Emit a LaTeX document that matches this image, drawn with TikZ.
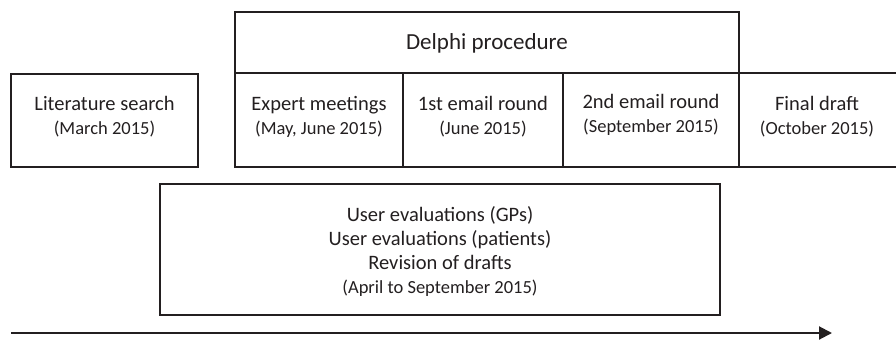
\documentclass[tikz,border=0pt]{standalone}
\usepackage{fontspec}
\setmainfont{Carlito}
\usetikzlibrary{arrows.meta}
\definecolor{ink}{HTML}{231F20}
\tikzset{
  frame/.style={draw=ink, line width=2pt},
  lbl/.style={text=ink, align=center, inner sep=0pt, font=\fontsize{20.5}{24}\selectfont},
}
\newcommand{\dt}[1]{{\fontsize{18.5}{22}\selectfont #1}}
\begin{document}
\begin{tikzpicture}[x=1pt, y=-1pt]
\useasboundingbox (0,0) rectangle (896,340);
% boxes
\draw[frame] (11,74) rectangle (198,167);
\draw[frame] (235,12) rectangle (739,73);
\draw[frame] (235,73) rectangle (403,167);
\draw[frame] (403,73) rectangle (563,167);
\draw[frame] (563,73) rectangle (739,167);
\draw[frame] (898,73) -- (739,73) -- (739,167) -- (898,167);
\draw[frame] (160,184) rectangle (720,315);
% labels
\node[lbl, font=\fontsize{23}{27}\selectfont] (delphi) at (487,43) {Delphi procedure};
\node[lbl] (lit) at (104.5,117) {Literature search\\\dt{(March 2015)}};
\node[lbl] (exp) at (319,117) {Expert meetings\\\dt{(May, June 2015)}};
\node[lbl] (r1) at (483,117) {1st email round\\\dt{(June 2015)}};
\node[lbl] (r2) at (651,115) {2nd email round\\\dt{(September 2015)}};
\node[lbl] (fin) at (817,117) {Final draft\\\dt{(October 2015)}};
\node[lbl] (user) at (440,251) {User evaluations (GPs)\\User evaluations (patients)\\Revision of drafts\\\dt{(April to September 2015)}};
% timeline
\coordinate (t0) at (11,333);
\coordinate (t1) at (832,333);
\draw[draw=ink, line width=2pt, -{Triangle[length=13pt,width=13pt]}] (t0) -- (t1);
\end{tikzpicture}
\end{document}
